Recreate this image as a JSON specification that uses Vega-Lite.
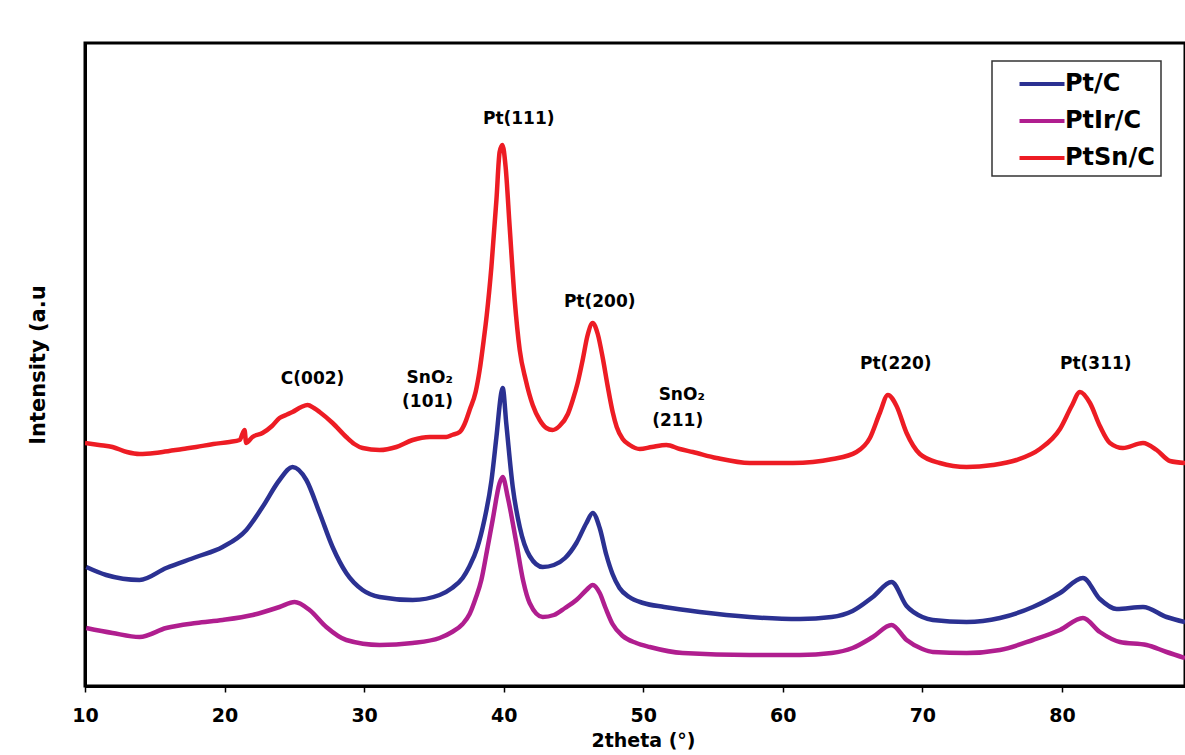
{
  "$schema": "https://vega.github.io/schema/vega-lite/v6.json",
  "width": 1100,
  "height": 643,
  "autosize": {"type": "none"},
  "padding": {"left": 85, "top": 43, "right": 0, "bottom": 69},
  "background": "white",
  "config": {
    "view": {"stroke": "black", "strokeWidth": 3},
    "font": "DejaVu Sans"
  },
  "datasets": {
    "xrd": [
      {"series": "PtSn/C", "theta": 10.0, "intensity": 243},
      {"series": "PtSn/C", "theta": 11.0, "intensity": 241},
      {"series": "PtSn/C", "theta": 11.97, "intensity": 239},
      {"series": "PtSn/C", "theta": 13.0, "intensity": 234},
      {"series": "PtSn/C", "theta": 13.91, "intensity": 232},
      {"series": "PtSn/C", "theta": 15.0, "intensity": 233},
      {"series": "PtSn/C", "theta": 15.56, "intensity": 234},
      {"series": "PtSn/C", "theta": 17.0, "intensity": 237},
      {"series": "PtSn/C", "theta": 17.97, "intensity": 239},
      {"series": "PtSn/C", "theta": 19.2, "intensity": 242},
      {"series": "PtSn/C", "theta": 20.36, "intensity": 244},
      {"series": "PtSn/C", "theta": 21.08, "intensity": 246},
      {"series": "PtSn/C", "theta": 21.43, "intensity": 256},
      {"series": "PtSn/C", "theta": 21.55, "intensity": 243},
      {"series": "PtSn/C", "theta": 22.0, "intensity": 249},
      {"series": "PtSn/C", "theta": 22.72, "intensity": 253},
      {"series": "PtSn/C", "theta": 23.4, "intensity": 260},
      {"series": "PtSn/C", "theta": 23.94, "intensity": 268},
      {"series": "PtSn/C", "theta": 24.4, "intensity": 271},
      {"series": "PtSn/C", "theta": 24.87, "intensity": 274},
      {"series": "PtSn/C", "theta": 25.5, "intensity": 279},
      {"series": "PtSn/C", "theta": 25.95, "intensity": 281},
      {"series": "PtSn/C", "theta": 26.4, "intensity": 278},
      {"series": "PtSn/C", "theta": 26.81, "intensity": 274},
      {"series": "PtSn/C", "theta": 27.74, "intensity": 263},
      {"series": "PtSn/C", "theta": 28.72, "intensity": 249},
      {"series": "PtSn/C", "theta": 29.3, "intensity": 242},
      {"series": "PtSn/C", "theta": 29.89, "intensity": 238},
      {"series": "PtSn/C", "theta": 31.11, "intensity": 236},
      {"series": "PtSn/C", "theta": 32.31, "intensity": 239},
      {"series": "PtSn/C", "theta": 33.48, "intensity": 246},
      {"series": "PtSn/C", "theta": 34.7, "intensity": 249},
      {"series": "PtSn/C", "theta": 35.89, "intensity": 249},
      {"series": "PtSn/C", "theta": 36.3, "intensity": 251},
      {"series": "PtSn/C", "theta": 36.85, "intensity": 254},
      {"series": "PtSn/C", "theta": 37.2, "intensity": 262},
      {"series": "PtSn/C", "theta": 37.56, "intensity": 276},
      {"series": "PtSn/C", "theta": 37.99, "intensity": 294},
      {"series": "PtSn/C", "theta": 38.28, "intensity": 316},
      {"series": "PtSn/C", "theta": 38.57, "intensity": 346},
      {"series": "PtSn/C", "theta": 38.78, "intensity": 370},
      {"series": "PtSn/C", "theta": 39.12, "intensity": 419},
      {"series": "PtSn/C", "theta": 39.48, "intensity": 486},
      {"series": "PtSn/C", "theta": 39.71, "intensity": 534},
      {"series": "PtSn/C", "theta": 39.91, "intensity": 541},
      {"series": "PtSn/C", "theta": 40.14, "intensity": 519},
      {"series": "PtSn/C", "theta": 40.43, "intensity": 459},
      {"series": "PtSn/C", "theta": 40.79, "intensity": 386},
      {"series": "PtSn/C", "theta": 41.15, "intensity": 336},
      {"series": "PtSn/C", "theta": 41.58, "intensity": 306},
      {"series": "PtSn/C", "theta": 42.08, "intensity": 281},
      {"series": "PtSn/C", "theta": 42.58, "intensity": 266},
      {"series": "PtSn/C", "theta": 43.06, "intensity": 258},
      {"series": "PtSn/C", "theta": 43.5, "intensity": 256},
      {"series": "PtSn/C", "theta": 44.0, "intensity": 260},
      {"series": "PtSn/C", "theta": 44.6, "intensity": 272},
      {"series": "PtSn/C", "theta": 44.95, "intensity": 286},
      {"series": "PtSn/C", "theta": 45.3, "intensity": 303},
      {"series": "PtSn/C", "theta": 45.66, "intensity": 326},
      {"series": "PtSn/C", "theta": 46.0, "intensity": 350},
      {"series": "PtSn/C", "theta": 46.38, "intensity": 363},
      {"series": "PtSn/C", "theta": 46.74, "intensity": 352},
      {"series": "PtSn/C", "theta": 47.1, "intensity": 328},
      {"series": "PtSn/C", "theta": 47.45, "intensity": 300},
      {"series": "PtSn/C", "theta": 47.81, "intensity": 274},
      {"series": "PtSn/C", "theta": 48.1, "intensity": 259},
      {"series": "PtSn/C", "theta": 48.53, "intensity": 247},
      {"series": "PtSn/C", "theta": 49.03, "intensity": 241},
      {"series": "PtSn/C", "theta": 49.75, "intensity": 237},
      {"series": "PtSn/C", "theta": 50.61, "intensity": 239},
      {"series": "PtSn/C", "theta": 51.66, "intensity": 241},
      {"series": "PtSn/C", "theta": 52.62, "intensity": 237},
      {"series": "PtSn/C", "theta": 53.55, "intensity": 234},
      {"series": "PtSn/C", "theta": 55.25, "intensity": 228},
      {"series": "PtSn/C", "theta": 57.63, "intensity": 223},
      {"series": "PtSn/C", "theta": 60.72, "intensity": 223},
      {"series": "PtSn/C", "theta": 63.58, "intensity": 227},
      {"series": "PtSn/C", "theta": 65.28, "intensity": 234},
      {"series": "PtSn/C", "theta": 66.24, "intensity": 248},
      {"series": "PtSn/C", "theta": 66.95, "intensity": 273},
      {"series": "PtSn/C", "theta": 67.53, "intensity": 291},
      {"series": "PtSn/C", "theta": 68.15, "intensity": 280},
      {"series": "PtSn/C", "theta": 68.87, "intensity": 253},
      {"series": "PtSn/C", "theta": 69.82, "intensity": 232},
      {"series": "PtSn/C", "theta": 71.25, "intensity": 223},
      {"series": "PtSn/C", "theta": 73.17, "intensity": 219},
      {"series": "PtSn/C", "theta": 75.05, "intensity": 221},
      {"series": "PtSn/C", "theta": 76.75, "intensity": 226},
      {"series": "PtSn/C", "theta": 78.42, "intensity": 237},
      {"series": "PtSn/C", "theta": 79.86, "intensity": 257},
      {"series": "PtSn/C", "theta": 80.7, "intensity": 280},
      {"series": "PtSn/C", "theta": 81.29, "intensity": 294},
      {"series": "PtSn/C", "theta": 82.01, "intensity": 283},
      {"series": "PtSn/C", "theta": 82.72, "intensity": 260},
      {"series": "PtSn/C", "theta": 83.44, "intensity": 243},
      {"series": "PtSn/C", "theta": 84.37, "intensity": 238},
      {"series": "PtSn/C", "theta": 85.81, "intensity": 243},
      {"series": "PtSn/C", "theta": 86.79, "intensity": 236},
      {"series": "PtSn/C", "theta": 87.74, "intensity": 225},
      {"series": "PtSn/C", "theta": 88.82, "intensity": 223},

      {"series": "Pt/C", "theta": 10.09, "intensity": 119},
      {"series": "Pt/C", "theta": 11.52, "intensity": 111},
      {"series": "Pt/C", "theta": 13.91, "intensity": 106},
      {"series": "Pt/C", "theta": 15.82, "intensity": 118},
      {"series": "Pt/C", "theta": 17.97, "intensity": 129},
      {"series": "Pt/C", "theta": 19.86, "intensity": 139},
      {"series": "Pt/C", "theta": 21.56, "intensity": 156},
      {"series": "Pt/C", "theta": 22.72, "intensity": 179},
      {"series": "Pt/C", "theta": 23.94, "intensity": 206},
      {"series": "Pt/C", "theta": 24.87, "intensity": 219},
      {"series": "Pt/C", "theta": 25.86, "intensity": 206},
      {"series": "Pt/C", "theta": 26.81, "intensity": 173},
      {"series": "Pt/C", "theta": 27.74, "intensity": 139},
      {"series": "Pt/C", "theta": 28.72, "intensity": 113},
      {"series": "Pt/C", "theta": 29.89, "intensity": 96},
      {"series": "Pt/C", "theta": 31.11, "intensity": 89},
      {"series": "Pt/C", "theta": 33.48, "intensity": 86},
      {"series": "Pt/C", "theta": 35.41, "intensity": 91},
      {"series": "Pt/C", "theta": 36.3, "intensity": 98},
      {"series": "Pt/C", "theta": 37.06, "intensity": 108},
      {"series": "Pt/C", "theta": 37.56, "intensity": 120},
      {"series": "Pt/C", "theta": 38.1, "intensity": 138},
      {"series": "Pt/C", "theta": 38.6, "intensity": 165},
      {"series": "Pt/C", "theta": 39.12, "intensity": 205},
      {"series": "Pt/C", "theta": 39.48, "intensity": 249},
      {"series": "Pt/C", "theta": 39.84, "intensity": 294},
      {"series": "Pt/C", "theta": 39.93, "intensity": 298},
      {"series": "Pt/C", "theta": 40.19, "intensity": 262},
      {"series": "Pt/C", "theta": 40.65, "intensity": 199},
      {"series": "Pt/C", "theta": 41.15, "intensity": 159},
      {"series": "Pt/C", "theta": 41.86, "intensity": 130},
      {"series": "Pt/C", "theta": 42.8, "intensity": 119},
      {"series": "Pt/C", "theta": 43.6, "intensity": 121},
      {"series": "Pt/C", "theta": 44.4, "intensity": 128},
      {"series": "Pt/C", "theta": 45.21, "intensity": 143},
      {"series": "Pt/C", "theta": 45.93, "intensity": 163},
      {"series": "Pt/C", "theta": 46.38, "intensity": 173},
      {"series": "Pt/C", "theta": 46.88, "intensity": 158},
      {"series": "Pt/C", "theta": 47.36, "intensity": 131},
      {"series": "Pt/C", "theta": 47.8, "intensity": 112},
      {"series": "Pt/C", "theta": 48.3, "intensity": 98},
      {"series": "Pt/C", "theta": 49.0, "intensity": 89},
      {"series": "Pt/C", "theta": 50.0, "intensity": 83},
      {"series": "Pt/C", "theta": 51.5, "intensity": 79},
      {"series": "Pt/C", "theta": 54.05, "intensity": 74},
      {"series": "Pt/C", "theta": 57.63, "intensity": 69},
      {"series": "Pt/C", "theta": 61.22, "intensity": 67},
      {"series": "Pt/C", "theta": 63.5, "intensity": 69},
      {"series": "Pt/C", "theta": 65.0, "intensity": 75},
      {"series": "Pt/C", "theta": 66.45, "intensity": 89},
      {"series": "Pt/C", "theta": 67.79, "intensity": 104},
      {"series": "Pt/C", "theta": 68.87, "intensity": 80},
      {"series": "Pt/C", "theta": 70.0, "intensity": 69},
      {"series": "Pt/C", "theta": 70.75, "intensity": 66},
      {"series": "Pt/C", "theta": 73.17, "intensity": 64},
      {"series": "Pt/C", "theta": 75.56, "intensity": 68},
      {"series": "Pt/C", "theta": 77.92, "intensity": 79},
      {"series": "Pt/C", "theta": 79.86, "intensity": 93},
      {"series": "Pt/C", "theta": 81.51, "intensity": 108},
      {"series": "Pt/C", "theta": 82.72, "intensity": 87},
      {"series": "Pt/C", "theta": 83.92, "intensity": 77},
      {"series": "Pt/C", "theta": 85.81, "intensity": 79},
      {"series": "Pt/C", "theta": 87.5, "intensity": 69},
      {"series": "Pt/C", "theta": 88.82, "intensity": 64},

      {"series": "PtIr/C", "theta": 10.09, "intensity": 58},
      {"series": "PtIr/C", "theta": 11.97, "intensity": 53},
      {"series": "PtIr/C", "theta": 13.91, "intensity": 49},
      {"series": "PtIr/C", "theta": 15.82, "intensity": 58},
      {"series": "PtIr/C", "theta": 17.97, "intensity": 63},
      {"series": "PtIr/C", "theta": 19.86, "intensity": 66},
      {"series": "PtIr/C", "theta": 22.01, "intensity": 71},
      {"series": "PtIr/C", "theta": 23.94, "intensity": 79},
      {"series": "PtIr/C", "theta": 25.02, "intensity": 84},
      {"series": "PtIr/C", "theta": 26.09, "intensity": 76},
      {"series": "PtIr/C", "theta": 27.29, "intensity": 59},
      {"series": "PtIr/C", "theta": 28.72, "intensity": 46},
      {"series": "PtIr/C", "theta": 31.11, "intensity": 41},
      {"series": "PtIr/C", "theta": 33.48, "intensity": 43},
      {"series": "PtIr/C", "theta": 35.41, "intensity": 48},
      {"series": "PtIr/C", "theta": 36.3, "intensity": 54},
      {"series": "PtIr/C", "theta": 37.06, "intensity": 62},
      {"series": "PtIr/C", "theta": 37.56, "intensity": 72},
      {"series": "PtIr/C", "theta": 38.0, "intensity": 88},
      {"series": "PtIr/C", "theta": 38.4, "intensity": 106},
      {"series": "PtIr/C", "theta": 38.8, "intensity": 135},
      {"series": "PtIr/C", "theta": 39.21, "intensity": 166},
      {"series": "PtIr/C", "theta": 39.71, "intensity": 203},
      {"series": "PtIr/C", "theta": 39.93, "intensity": 209},
      {"series": "PtIr/C", "theta": 40.29, "intensity": 189},
      {"series": "PtIr/C", "theta": 40.91, "intensity": 143},
      {"series": "PtIr/C", "theta": 41.4, "intensity": 105},
      {"series": "PtIr/C", "theta": 41.86, "intensity": 83},
      {"series": "PtIr/C", "theta": 42.8, "intensity": 69},
      {"series": "PtIr/C", "theta": 43.6, "intensity": 71},
      {"series": "PtIr/C", "theta": 44.4, "intensity": 78},
      {"series": "PtIr/C", "theta": 45.21, "intensity": 86},
      {"series": "PtIr/C", "theta": 45.93, "intensity": 96},
      {"series": "PtIr/C", "theta": 46.38, "intensity": 101},
      {"series": "PtIr/C", "theta": 46.88, "intensity": 93},
      {"series": "PtIr/C", "theta": 47.3, "intensity": 78},
      {"series": "PtIr/C", "theta": 47.8, "intensity": 62},
      {"series": "PtIr/C", "theta": 48.53, "intensity": 50},
      {"series": "PtIr/C", "theta": 49.5, "intensity": 43},
      {"series": "PtIr/C", "theta": 50.47, "intensity": 39},
      {"series": "PtIr/C", "theta": 52.83, "intensity": 33},
      {"series": "PtIr/C", "theta": 57.63, "intensity": 31},
      {"series": "PtIr/C", "theta": 61.22, "intensity": 31},
      {"series": "PtIr/C", "theta": 63.5, "intensity": 33},
      {"series": "PtIr/C", "theta": 65.0, "intensity": 38},
      {"series": "PtIr/C", "theta": 66.45, "intensity": 49},
      {"series": "PtIr/C", "theta": 67.79, "intensity": 61},
      {"series": "PtIr/C", "theta": 68.87, "intensity": 46},
      {"series": "PtIr/C", "theta": 70.0, "intensity": 37},
      {"series": "PtIr/C", "theta": 70.75, "intensity": 34},
      {"series": "PtIr/C", "theta": 73.17, "intensity": 33},
      {"series": "PtIr/C", "theta": 75.56, "intensity": 36},
      {"series": "PtIr/C", "theta": 77.92, "intensity": 46},
      {"series": "PtIr/C", "theta": 79.86, "intensity": 56},
      {"series": "PtIr/C", "theta": 81.51, "intensity": 68},
      {"series": "PtIr/C", "theta": 82.72, "intensity": 54},
      {"series": "PtIr/C", "theta": 84.16, "intensity": 44},
      {"series": "PtIr/C", "theta": 86.07, "intensity": 41},
      {"series": "PtIr/C", "theta": 87.5, "intensity": 34},
      {"series": "PtIr/C", "theta": 88.82, "intensity": 28}
    ],
    "labels": [
      {"label": "C(002)", "theta": 26.31, "intensity": 307},
      {"label": "SnO₂", "theta": 34.7, "intensity": 308},
      {"label": "(101)", "theta": 34.55, "intensity": 284},
      {"label": "Pt(111)", "theta": 41.08, "intensity": 567},
      {"label": "Pt(200)", "theta": 46.88, "intensity": 384},
      {"label": "SnO₂", "theta": 52.76, "intensity": 291},
      {"label": "(211)", "theta": 52.47, "intensity": 265},
      {"label": "Pt(220)", "theta": 68.1, "intensity": 322},
      {"label": "Pt(311)", "theta": 82.43, "intensity": 322}
    ]
  },
  "encoding": {
    "x": {
      "field": "theta",
      "type": "quantitative",
      "scale": {"domain": [10, 88.82], "nice": false, "zero": false},
      "axis": {
        "title": "2theta (°)",
        "values": [10, 20, 30, 40, 50, 60, 70, 80],
        "grid": false,
        "domainColor": "black",
        "domainWidth": 3,
        "tickColor": "black",
        "tickWidth": 1.5,
        "tickSize": 6,
        "labelFont": "DejaVu Sans",
        "labelFontSize": 19,
        "labelFontWeight": "bold",
        "labelColor": "black",
        "labelPadding": 14,
        "labelFlush": false,
        "titleFont": "DejaVu Sans",
        "titleFontSize": 19,
        "titleFontWeight": "bold",
        "titleColor": "black",
        "titlePadding": 6,
        "titleX": 558
      }
    },
    "y": {
      "field": "intensity",
      "type": "quantitative",
      "scale": {"domain": [0, 643], "nice": false},
      "axis": {
        "title": "Intensity (a.u",
        "grid": false,
        "ticks": false,
        "labels": false,
        "domainColor": "black",
        "domainWidth": 3,
        "titleFont": "DejaVu Sans",
        "titleFontSize": 21,
        "titleFontWeight": "bold",
        "titleColor": "black",
        "titlePadding": 37
      }
    }
  },
  "layer": [
    {
      "data": {"name": "xrd"},
      "mark": {"type": "line", "strokeWidth": 4.5, "interpolate": "monotone", "clip": true},
      "encoding": {
        "color": {
          "field": "series",
          "type": "nominal",
          "scale": {"domain": ["Pt/C", "PtIr/C", "PtSn/C"], "range": ["#2B3192", "#B01E8F", "#ED1C24"]},
          "legend": {
            "title": null,
            "orient": "none",
            "legendX": 907,
            "legendY": 18,
            "padding": 6,
            "strokeColor": "#333333",
            "fillColor": "white",
            "symbolType": "M-1.5,0H1.5",
            "symbolSize": 900,
            "symbolStrokeWidth": 4,
            "symbolOffset": 27,
            "labelFont": "DejaVu Sans",
            "labelFontSize": 24,
            "labelFontWeight": "bold",
            "labelColor": "black",
            "labelOffset": 6,
            "labelExpr": "datum.label + '\u2002\u2009'",
            "rowPadding": 8,
            "encode": {"legend": {"update": {"strokeWidth": {"value": 1.5}}}}
          }
        }
      }
    },
    {
      "data": {"name": "labels"},
      "mark": {"type": "text", "font": "DejaVu Sans", "fontSize": 17, "fontWeight": "bold", "align": "center", "baseline": "middle", "color": "black"},
      "encoding": {
        "text": {"field": "label", "type": "nominal"}
      }
    }
  ]
}
